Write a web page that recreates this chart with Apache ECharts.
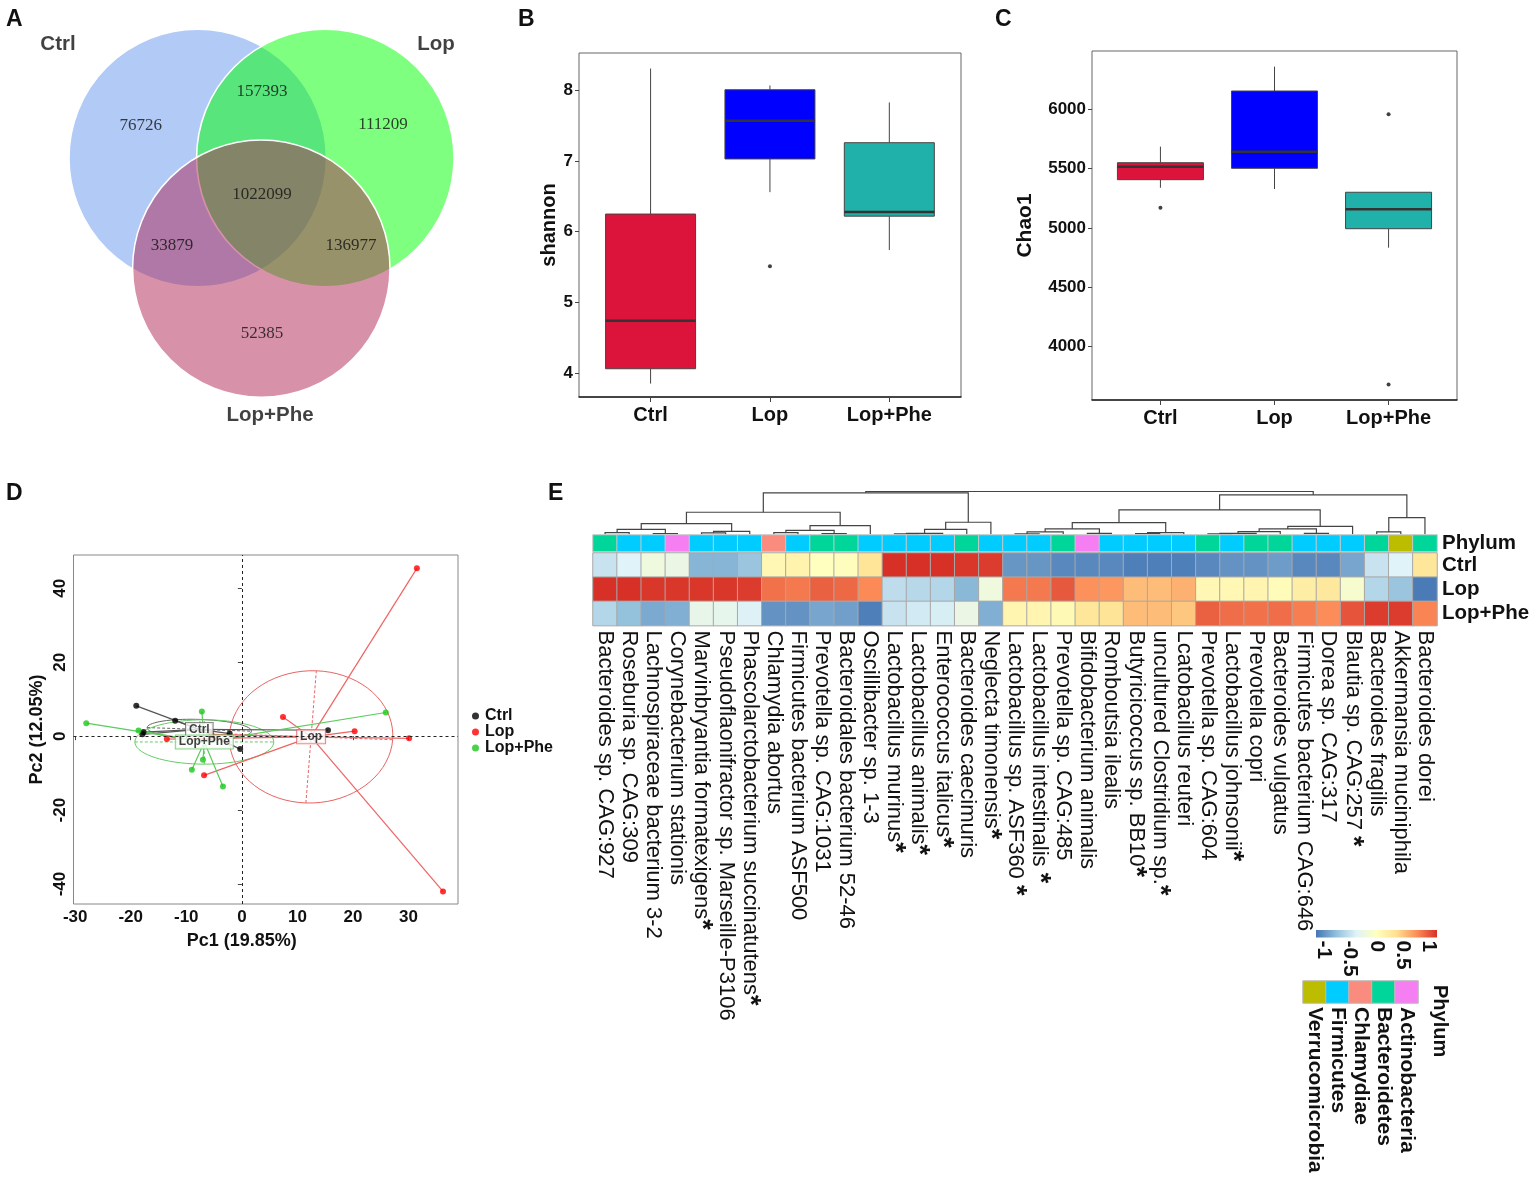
<!DOCTYPE html>
<html><head><meta charset="utf-8">
<script src="https://cdn.jsdelivr.net/npm/echarts@6/dist/echarts.min.js"></script>
<style>html,body{margin:0;padding:0;background:#fff}#c{width:1535px;height:1179px}</style>
</head><body><div id="c"></div>
<script>
// ---------------- DATA ----------------
const groups = ['Ctrl', 'Lop', 'Lop+Phe'];

// Panel A: Venn counts (Ctrl only, Ctrl∩Lop, Lop only, all, Ctrl∩Lop+Phe, Lop∩Lop+Phe, Lop+Phe only)
const vennCounts = [76726, 157393, 111209, 1022099, 33879, 136977, 52385];

// Panel B: shannon boxplots
const shannonLow = [3.85, 6.56, 5.74];
const shannonQ1 = [4.06, 7.03, 6.22];
const shannonMed = [4.74, 7.57, 6.28];
const shannonQ3 = [6.25, 8.01, 7.26];
const shannonHigh = [8.31, 8.07, 7.83];
const shannonOutliers = [[1, 5.51]];
const shannonTicks = [4, 5, 6, 7, 8];

// Panel C: Chao1 boxplots
const chaoLow = [5339, 5328, 4834];
const chaoQ1 = [5407, 5503, 4994];
const chaoMed = [5516, 5643, 5157];
const chaoQ3 = [5550, 6154, 5301];
const chaoHigh = [5685, 6359, 5301];
const chaoOutliers = [[0, 5171], [2, 5958], [2, 3682]];
const chaoTicks = [4000, 4500, 5000, 5500, 6000];

// Panel D: PCoA sample scores
const pcCtrlX = [-19.0, -12.0, -17.7, -17.9, -2.2, -0.3, 15.5];
const pcCtrlY = [8.2, 4.2, 1.1, 0.5, 0.7, -3.5, 1.6];
const pcLopX = [31.5, 36.2, 7.4, 20.3, 30.1, -13.5, -6.8, -5.5];
const pcLopY = [45.4, -42.0, 5.2, 1.35, -0.6, -0.8, -10.6, 0.5];
const pcPheX = [-28.0, -18.6, -7.2, -7.0, -9.0, -3.4, 25.9];
const pcPheY = [3.5, 1.5, 6.7, -6.4, -9.1, -13.6, 6.4];
const ellipseA = [9.4, 14.7, 12.5];
const ellipseB = [2.7, 17.9, 6.0];
const ellipseAngle = [-3, -3, 0];
const pcXTicks = [-30, -20, -10, 0, 10, 20, 30];
const pcYTicks = [-40, -20, 0, 20, 40];

// Panel E: heatmap
const species = ['Bacteroides sp. CAG:927', 'Roseburia sp. CAG:309', 'Lachnospiraceae bacterium 3-2',
  'Corynebacterium stationis', 'Marvinbryantia formatexigens*', 'Pseudoflaonifractor sp. Marseille-P3106',
  'Phascolarctobacterium succinatutens*', 'Chlamydia abortus', 'Firmicutes bacterium ASF500',
  'Prevotella sp. CAG:1031', 'Bacteroidales bacterium 52-46', 'Oscillibacter sp. 1-3',
  'Lactobacillus murinus*', 'Lactobacillus animalis*', 'Enterococcus italicus*', 'Bacteroides caecimuris',
  'Neglecta timonensis*', 'Lactobacillus sp. ASF360 *', 'Lactobacillus intestinalis *', 'Prevotella sp. CAG:485',
  'Bifidobacterium animalis', 'Romboutsia ilealis', 'Butyricicoccus sp. BB10*', 'uncultured Clostridium sp.*',
  'Lcatobacillus reuteri', 'Prevotella sp. CAG:604', 'Lactobacillus johnsonii*', 'Prevotella copri',
  'Bacteroides vulgatus', 'Firmicutes bacterium CAG:646', 'Dorea sp. CAG:317', 'Blautia sp. CAG:257 *',
  'Bacteroides fragilis', 'Akkermansia muciniphila', 'Bacteroides dorei'];
const phylum = ['Bacteroidetes', 'Firmicutes', 'Firmicutes', 'Actinobacteria', 'Firmicutes', 'Firmicutes',
  'Firmicutes', 'Chlamydiae', 'Firmicutes', 'Bacteroidetes', 'Bacteroidetes', 'Firmicutes',
  'Firmicutes', 'Firmicutes', 'Firmicutes', 'Bacteroidetes', 'Firmicutes', 'Firmicutes', 'Firmicutes',
  'Bacteroidetes', 'Actinobacteria', 'Firmicutes', 'Firmicutes', 'Firmicutes', 'Firmicutes',
  'Bacteroidetes', 'Firmicutes', 'Bacteroidetes', 'Bacteroidetes', 'Firmicutes', 'Firmicutes',
  'Firmicutes', 'Bacteroidetes', 'Verrucomicrobia', 'Bacteroidetes'];
const ctrlZ = [-0.5, -0.38, -0.2, -0.25, -0.82, -0.82, -0.72, 0.1, 0.15, 0.0, 0.02, 0.32,
  1.15, 1.15, 1.15, 1.12, 1.1, -0.98, -0.98, -1.05, -1.05, -1.05, -1.1, -1.1, -1.1,
  -1.05, -1.0, -1.0, -0.95, -1.05, -1.05, -0.9, -0.5, -0.38, 0.3];
const lopZ = [1.15, 1.15, 1.12, 1.12, 1.12, 1.12, 1.1, 0.88, 0.85, 0.95, 0.92, 0.78,
  -0.55, -0.58, -0.6, -0.8, -0.2, 0.85, 0.85, 0.98, 0.75, 0.72, 0.55, 0.55, 0.6,
  0.1, 0.1, 0.12, 0.05, 0.22, 0.28, -0.1, -0.6, -0.72, -1.12];
const pheZ = [-0.6, -0.75, -0.88, -0.85, -0.28, -0.3, -0.4, -1.0, -1.0, -0.9, -0.93, -1.1,
  -0.5, -0.45, -0.42, -0.25, -0.85, 0.12, 0.12, 0.07, 0.3, 0.33, 0.55, 0.55, 0.5,
  0.95, 0.9, 0.88, 0.9, 0.83, 0.77, 1.0, 1.1, 1.1, 0.8];
// dendrogram merges: [left node, right node, height]; leaves 0..34, internal nodes 35..
const dendroMerges = [
  [0, 1, 5], [2, 3, 2], [35, 36, 15], [4, 5, 4], [38, 6, 9], [37, 39, 32],
  [7, 8, 5], [9, 10, 2], [41, 42, 12], [43, 11, 26], [40, 44, 66],
  [12, 13, 1], [46, 14, 2.5], [47, 15, 15], [48, 16, 36], [45, 49, 124],
  [17, 18, 1], [51, 19, 7], [20, 21, 3], [52, 53, 16], [22, 23, 2], [55, 24, 5], [54, 56, 35],
  [25, 26, 1], [58, 27, 3], [59, 28, 8], [29, 30, 3], [60, 61, 16], [62, 31, 24], [57, 63, 73],
  [32, 33, 7], [65, 34, 50], [64, 66, 118], [50, 67, 128]
];
const phylumLegend = ['Verrucomicrobia', 'Firmicutes', 'Chlamydiae', 'Bacteroidetes', 'Actinobacteria'];
const legendTicks = [-1, -0.5, 0, 0.5, 1];

// ---------------- STYLE / LAYOUT ----------------
const F = 'Liberation Sans, Arial, Helvetica, sans-serif';
const vennFill = ['rgba(100,149,237,0.5)', 'rgba(0,255,0,0.5)', 'rgba(176,37,85,0.5)'];
const vennCircleX = [197.7, 325.3, 261.3];
const vennCircleY = [158, 158, 268.6];
const vennRadius = 128.7;
const vennNumPos = [[140.7, 125.7], [262, 92], [383, 125], [262, 195], [172, 246], [351, 246], [262, 334]];
const vennSetPos = [[58, 44], [436, 44], [270, 415]];
const boxColors = ['#DC143C', '#0000FF', '#20B2AA'];
const pcPointColors = ['#000000', '#FF0000', '#1DC81D'];
const pcLineColors = ['#555555', '#EE6464', '#5CCB5C'];
const pcEllColors = ['#666666', '#E86464', '#66CC66'];
const heatColors = ['#4575B4', '#91BFDB', '#E0F3F8', '#FFFFBF', '#FEE090', '#FC8D59', '#D73027'];
const phylumColors = ['#BDBD00', '#00CCFF', '#F98B7F', '#00D69A', '#F57FF2'];

// ---------------- BUILD ----------------
const mean = a => a.reduce((s, v) => s + v, 0) / a.length;
const pcX = [pcCtrlX, pcLopX, pcPheX];
const pcY = [pcCtrlY, pcLopY, pcPheY];
const cents = pcX.map((xs, g) => [mean(xs), mean(pcY[g])]);

const grids = [
  {left: 0, top: 0, width: 500, height: 440},                      // 0 venn
  {left: 579, top: 53, width: 382, height: 344, show: true, borderColor: '#666', borderWidth: 1}, // 1 B frame
  {left: 590.9, top: 53, width: 358.1, height: 344},               // 2 B inner
  {left: 1092, top: 51, width: 365, height: 349, show: true, borderColor: '#666', borderWidth: 1}, // 3 C frame
  {left: 1103.4, top: 51, width: 342.2, height: 349},              // 4 C inner
  {left: 73.5, top: 555, width: 384.5, height: 349, show: true, borderColor: '#888', borderWidth: 1}, // 5 D
  {left: 593, top: 491.5, width: 844, height: 42.8},               // 6 dendro
  {left: 593, top: 535, width: 844, height: 16.5},                 // 7 phylum row
  {left: 593, top: 553, width: 844, height: 72.6},                 // 8 heatmap
  {left: 1316, top: 930, width: 121, height: 7.5},                 // 9 colorbar
  {left: 1303, top: 981, width: 115, height: 22}                   // 10 phylum legend
];

const hidden = (gi, extra) => Object.assign({gridIndex: gi, type: 'value', show: false}, extra || {});
const catLabel = {fontSize: 20, fontWeight: 'bold', color: '#111', margin: 8, fontFamily: F};

const xAxes = [
  hidden(0, {min: 0, max: 500}),
  {gridIndex: 1, type: 'value', min: 0, max: 1, axisLine: {show: true, lineStyle: {color: '#222', width: 1.5}},
    axisTick: {show: false}, axisLabel: {show: false}, splitLine: {show: false}},
  {gridIndex: 2, type: 'category', data: groups, axisLine: {show: false},
    axisTick: {show: true, alignWithLabel: true, length: 5, lineStyle: {color: '#444'}}, axisLabel: catLabel},
  {gridIndex: 3, type: 'value', min: 0, max: 1, axisLine: {show: true, lineStyle: {color: '#222', width: 1.5}},
    axisTick: {show: false}, axisLabel: {show: false}, splitLine: {show: false}},
  {gridIndex: 4, type: 'category', data: groups, axisLine: {show: false},
    axisTick: {show: true, alignWithLabel: true, length: 5, lineStyle: {color: '#444'}}, axisLabel: catLabel},
  {gridIndex: 5, type: 'value', min: -30.3, max: 38.9, axisLine: {show: false}, splitLine: {show: false},
    axisTick: {show: true, length: 4, customValues: pcXTicks, lineStyle: {color: '#444'}},
    axisLabel: {customValues: pcXTicks, fontSize: 17, fontWeight: 'bold', color: '#111', margin: 5},
    name: 'Pc1 (19.85%)', nameLocation: 'middle', nameGap: 28,
    nameTextStyle: {fontSize: 18, fontWeight: 'bold', color: '#111', padding: [0, 48, 0, 0]}},
  hidden(6, {min: -0.5, max: 34.5}),
  {gridIndex: 7, type: 'category', data: species, show: false},
  {gridIndex: 8, type: 'category', data: species, axisLine: {show: false}, axisTick: {show: false},
    axisLabel: {interval: 0, rotate: -90, fontSize: 22, color: '#111', margin: 5,
      formatter: v => v.endsWith('*') ? v.slice(0, -1) + '{s|*}' : v,
      rich: {s: {fontSize: 27, fontWeight: 'bold', color: '#111'}}}},
  {gridIndex: 9, type: 'value', min: -1.15, max: 1.15, axisLine: {show: false}, axisTick: {show: false},
    splitLine: {show: false},
    axisLabel: {customValues: legendTicks, rotate: -90, fontSize: 21, fontWeight: 'bold', color: '#111', margin: 3}},
  {gridIndex: 10, type: 'category', data: phylumLegend, axisLine: {show: false}, axisTick: {show: false},
    axisLabel: {interval: 0, rotate: -90, fontSize: 21, fontWeight: 'bold', color: '#111', margin: 4}}
];

const yAxes = [
  hidden(0, {min: 0, max: 440, inverse: true}),
  hidden(1, {min: 0, max: 1}),
  {gridIndex: 2, type: 'value', min: 3.66, max: 8.53, offset: 11.9, axisLine: {show: false}, splitLine: {show: false},
    axisTick: {show: true, length: 4, customValues: shannonTicks, lineStyle: {color: '#444'}},
    axisLabel: {customValues: shannonTicks, fontSize: 17, fontWeight: 'bold', color: '#111', margin: 6},
    name: 'shannon', nameLocation: 'middle', nameGap: 20,
    nameTextStyle: {fontSize: 20, fontWeight: 'bold', color: '#111'}},
  hidden(3, {min: 0, max: 1}),
  {gridIndex: 4, type: 'value', min: 3551, max: 6491, offset: 11.4, axisLine: {show: false}, splitLine: {show: false},
    axisTick: {show: true, length: 4, customValues: chaoTicks, lineStyle: {color: '#444'}},
    axisLabel: {customValues: chaoTicks, fontSize: 17, fontWeight: 'bold', color: '#111', margin: 6,
      formatter: v => String(v)},
    name: 'Chao1', nameLocation: 'middle', nameGap: 56,
    nameTextStyle: {fontSize: 21, fontWeight: 'bold', color: '#111'}},
  {gridIndex: 5, type: 'value', min: -45.4, max: 49, axisLine: {show: false}, splitLine: {show: false},
    axisTick: {show: true, length: 4, customValues: pcYTicks, lineStyle: {color: '#444'}},
    axisLabel: {customValues: pcYTicks, rotate: 90, fontSize: 17, fontWeight: 'bold', color: '#111', margin: 5},
    name: 'Pc2 (12.05%)', nameLocation: 'middle', nameGap: 27,
    nameTextStyle: {fontSize: 18, fontWeight: 'bold', color: '#111'}},
  hidden(6, {min: 0, max: 128}),
  {gridIndex: 7, type: 'category', data: ['Phylum'], position: 'right', axisLine: {show: false}, axisTick: {show: false},
    axisLabel: {interval: 0, fontSize: 20.5, fontWeight: 'bold', color: '#111', margin: 5}},
  {gridIndex: 8, type: 'category', data: ['Lop+Phe', 'Lop', 'Ctrl'], position: 'right', axisLine: {show: false},
    axisTick: {show: false}, axisLabel: {interval: 0, fontSize: 20.5, fontWeight: 'bold', color: '#111', margin: 5}},
  hidden(9, {min: 0, max: 1}),
  {gridIndex: 10, type: 'category', data: [''], show: false}
];

const series = [];
// --- A: Venn
series.push({type: 'custom', xAxisIndex: 0, yAxisIndex: 0, silent: true,
  data: vennCircleX.map((x, i) => [x, vennCircleY[i], vennRadius]),
  renderItem: (p, api) => {
    const c = api.coord([api.value(0), api.value(1)]);
    const r = api.size([api.value(2), 0])[0];
    return {type: 'circle', shape: {cx: c[0], cy: c[1], r: r},
      style: {fill: vennFill[p.dataIndex], stroke: '#fff', lineWidth: 1.5}};
  }});
series.push({type: 'scatter', xAxisIndex: 0, yAxisIndex: 0, silent: true, symbolSize: 1,
  itemStyle: {color: 'rgba(0,0,0,0)'},
  data: vennCounts.map((v, i) => ({value: vennNumPos[i], name: String(v)})),
  label: {show: true, position: 'inside', formatter: '{b}', fontFamily: 'Liberation Serif, Times New Roman, serif',
    fontSize: 17, color: '#111'}});
series.push({type: 'scatter', xAxisIndex: 0, yAxisIndex: 0, silent: true, symbolSize: 1,
  itemStyle: {color: 'rgba(0,0,0,0)'},
  data: groups.map((g, i) => ({value: vennSetPos[i], name: g})),
  label: {show: true, position: 'inside', formatter: '{b}', fontSize: 20.5, fontWeight: 'bold', color: '#111'}});

// --- B, C: boxplots
function boxSeries(xi, low, q1, med, q3, high) {
  return {type: 'custom', xAxisIndex: xi, yAxisIndex: xi, silent: true,
    data: groups.map((g, i) => [i, low[i], q1[i], med[i], q3[i], high[i]]),
    encode: {x: 0, y: [1, 2, 3, 4, 5]},
    renderItem: (p, api) => {
      const i = p.dataIndex;
      const bw = api.size([1, 0])[0] * 0.377;
      const pl = api.coord([i, api.value(1)]), p1 = api.coord([i, api.value(2)]),
        pm = api.coord([i, api.value(3)]), p3 = api.coord([i, api.value(4)]), ph = api.coord([i, api.value(5)]);
      const cx = pm[0];
      return {type: 'group', children: [
        {type: 'line', shape: {x1: cx, y1: ph[1], x2: cx, y2: p3[1]}, style: {stroke: '#444', lineWidth: 1}},
        {type: 'line', shape: {x1: cx, y1: p1[1], x2: cx, y2: pl[1]}, style: {stroke: '#444', lineWidth: 1}},
        {type: 'rect', shape: {x: cx - bw, y: p3[1], width: 2 * bw, height: p1[1] - p3[1]},
          style: {fill: boxColors[i], stroke: '#444', lineWidth: 1}},
        {type: 'line', shape: {x1: cx - bw, y1: pm[1], x2: cx + bw, y2: pm[1]}, style: {stroke: '#333', lineWidth: 2.5}}
      ]};
    }};
}
series.push(boxSeries(2, shannonLow, shannonQ1, shannonMed, shannonQ3, shannonHigh));
series.push({type: 'scatter', xAxisIndex: 2, yAxisIndex: 2, silent: true, symbolSize: 4,
  itemStyle: {color: '#111'}, data: shannonOutliers});
series.push(boxSeries(4, chaoLow, chaoQ1, chaoMed, chaoQ3, chaoHigh));
series.push({type: 'scatter', xAxisIndex: 4, yAxisIndex: 4, silent: true, symbolSize: 4,
  itemStyle: {color: '#111'}, data: chaoOutliers});

// --- D: PCoA
groups.forEach((g, gi) => {
  series.push({type: 'custom', xAxisIndex: 5, yAxisIndex: 5, silent: true,
    data: [[cents[gi][0], cents[gi][1], ellipseA[gi], ellipseB[gi], ellipseAngle[gi]]],
    renderItem: (p, api) => {
      const cx = api.value(0), cy = api.value(1), a = api.value(2), b = api.value(3);
      const phi = api.value(4) * Math.PI / 180;
      const pts = [];
      for (let k = 0; k <= 72; k++) {
        const t = k / 72 * 2 * Math.PI;
        pts.push(api.coord([cx + a * Math.cos(t) * Math.cos(phi) - b * Math.sin(t) * Math.sin(phi),
          cy + a * Math.cos(t) * Math.sin(phi) + b * Math.sin(t) * Math.cos(phi)]));
      }
      const ax1 = api.coord([cx - a * Math.cos(phi), cy - a * Math.sin(phi)]);
      const ax2 = api.coord([cx + a * Math.cos(phi), cy + a * Math.sin(phi)]);
      const bx1 = api.coord([cx + b * Math.sin(phi), cy - b * Math.cos(phi)]);
      const bx2 = api.coord([cx - b * Math.sin(phi), cy + b * Math.cos(phi)]);
      const ls = {stroke: pcEllColors[gi], lineWidth: 1, lineDash: [3, 2]};
      return {type: 'group', children: [
        {type: 'polyline', shape: {points: pts}, style: {stroke: pcEllColors[gi], lineWidth: 1, fill: 'none'}},
        {type: 'line', shape: {x1: ax1[0], y1: ax1[1], x2: ax2[0], y2: ax2[1]}, style: ls},
        {type: 'line', shape: {x1: bx1[0], y1: bx1[1], x2: bx2[0], y2: bx2[1]}, style: ls}
      ]};
    }});
});
groups.forEach((g, gi) => {
  series.push({type: 'custom', xAxisIndex: 5, yAxisIndex: 5, silent: true,
    data: pcX[gi].map((x, k) => [x, pcY[gi][k]]),
    renderItem: (p, api) => {
      const a = api.coord([api.value(0), api.value(1)]);
      const c = api.coord(cents[gi]);
      return {type: 'line', shape: {x1: a[0], y1: a[1], x2: c[0], y2: c[1]},
        style: {stroke: pcLineColors[gi], lineWidth: 1.2}};
    }});
});
groups.forEach((g, gi) => {
  const s = {type: 'scatter', name: g, xAxisIndex: 5, yAxisIndex: 5, symbolSize: 6, silent: true,
    itemStyle: {color: pcPointColors[gi]}, data: pcX[gi].map((x, k) => [x, pcY[gi][k]])};
  if (gi === 0) {
    s.markLine = {silent: true, symbol: ['none', 'none'], label: {show: false},
      lineStyle: {type: [3, 3], color: '#222', width: 1}, data: [{xAxis: 0}, {yAxis: 0}]};
  }
  series.push(s);
});
series.push({type: 'scatter', xAxisIndex: 5, yAxisIndex: 5, silent: true, symbolSize: 1,
  itemStyle: {color: 'rgba(0,0,0,0)'},
  data: groups.map((g, gi) => ({value: cents[gi], name: g,
    label: {borderColor: pcEllColors[gi]}})),
  label: {show: true, position: 'inside', formatter: '{b}', fontSize: 12, fontWeight: 'bold', color: '#111',
    backgroundColor: '#fff', borderWidth: 1, padding: [1, 3, 0, 3]}});

// --- E: dendrogram
const nodeX = species.map((s, i) => i);
const nodeH = species.map(() => 0);
const dendroData = dendroMerges.map((m, k) => {
  const id = species.length + k;
  nodeX[id] = (nodeX[m[0]] + nodeX[m[1]]) / 2;
  nodeH[id] = m[2];
  return [nodeX[m[0]], nodeH[m[0]], nodeX[m[1]], nodeH[m[1]], m[2]];
});
series.push({type: 'custom', xAxisIndex: 6, yAxisIndex: 6, silent: true, data: dendroData,
  encode: {x: [0, 2], y: [1, 3, 4]},
  renderItem: (p, api) => {
    const h = api.value(4);
    const pts = [api.coord([api.value(0), api.value(1)]), api.coord([api.value(0), h]),
      api.coord([api.value(2), h]), api.coord([api.value(2), api.value(3)])];
    return {type: 'polyline', shape: {points: pts}, style: {stroke: '#444', lineWidth: 1.2, fill: 'none'}};
  }});
// phylum row
const phylumSeriesIdx = series.length;
series.push({type: 'heatmap', xAxisIndex: 7, yAxisIndex: 7, silent: true,
  data: species.map((s, i) => [i, 0, phylumLegend.indexOf(phylum[i])]),
  itemStyle: {borderColor: '#c8c8c8', borderWidth: 1}, emphasis: {disabled: true}});
// heatmap
const heatSeriesIdx = series.length;
const heatData = [];
species.forEach((s, i) => { heatData.push([i, 2, ctrlZ[i]], [i, 1, lopZ[i]], [i, 0, pheZ[i]]); });
series.push({type: 'heatmap', xAxisIndex: 8, yAxisIndex: 8, silent: true, data: heatData,
  itemStyle: {borderColor: '#a8a8a8', borderWidth: 1}, emphasis: {disabled: true}});
// colour bar
series.push({type: 'custom', xAxisIndex: 9, yAxisIndex: 9, silent: true, data: [[-1.15, 1.15]],
  renderItem: (p, api) => {
    const a = api.coord([api.value(0), 0]);
    const b = api.coord([api.value(1), 1]);
    return {type: 'rect', shape: {x: a[0], y: b[1], width: b[0] - a[0], height: a[1] - b[1]},
      style: {fill: new echarts.graphic.LinearGradient(0, 0, 1, 0,
        heatColors.map((c, i) => ({offset: i / (heatColors.length - 1), color: c})))}};
  }});
// phylum legend
const phylumLegendIdx = series.length;
series.push({type: 'heatmap', xAxisIndex: 10, yAxisIndex: 10, silent: true,
  data: phylumLegend.map((n, i) => [i, 0, i]),
  itemStyle: {borderColor: '#bbb', borderWidth: 1}, emphasis: {disabled: true}});

const letter = (t, x, y) => ({type: 'text', x: x, y: y,
  style: {text: t, fontSize: 23, fontWeight: 'bold', fill: '#111', fontFamily: F}});

const option = {
  animation: false,
  backgroundColor: '#fff',
  textStyle: {fontFamily: F},
  grid: grids,
  xAxis: xAxes,
  yAxis: yAxes,
  legend: {data: groups, left: 472, top: 708, orient: 'vertical', itemGap: 0, itemWidth: 7, itemHeight: 7,
    icon: 'circle', padding: 0, selectedMode: false,
    textStyle: {fontSize: 16, fontWeight: 'bold', color: '#111', lineHeight: 15, padding: [0, 0, 0, 1]}},
  visualMap: [
    {type: 'continuous', show: false, seriesIndex: [heatSeriesIdx], dimension: 2, min: -1.15, max: 1.15,
      inRange: {color: heatColors}},
    {type: 'piecewise', show: false, seriesIndex: [phylumSeriesIdx, phylumLegendIdx], dimension: 2,
      pieces: phylumLegend.map((n, i) => ({value: i, color: phylumColors[i]}))}
  ],
  graphic: [
    letter('A', 6, 8), letter('B', 518, 8), letter('C', 995, 8), letter('D', 6, 482), letter('E', 548, 482),
    {type: 'text', x: 1440, y: 985, rotation: -Math.PI / 2,
      style: {text: 'Phylum', fontSize: 20, fontWeight: 'bold', fill: '#111', fontFamily: F,
        align: 'left', verticalAlign: 'middle'}}
  ],
  series: series
};
const chart = echarts.init(document.getElementById('c'));
chart.setOption(option);
</script>
</body></html>
